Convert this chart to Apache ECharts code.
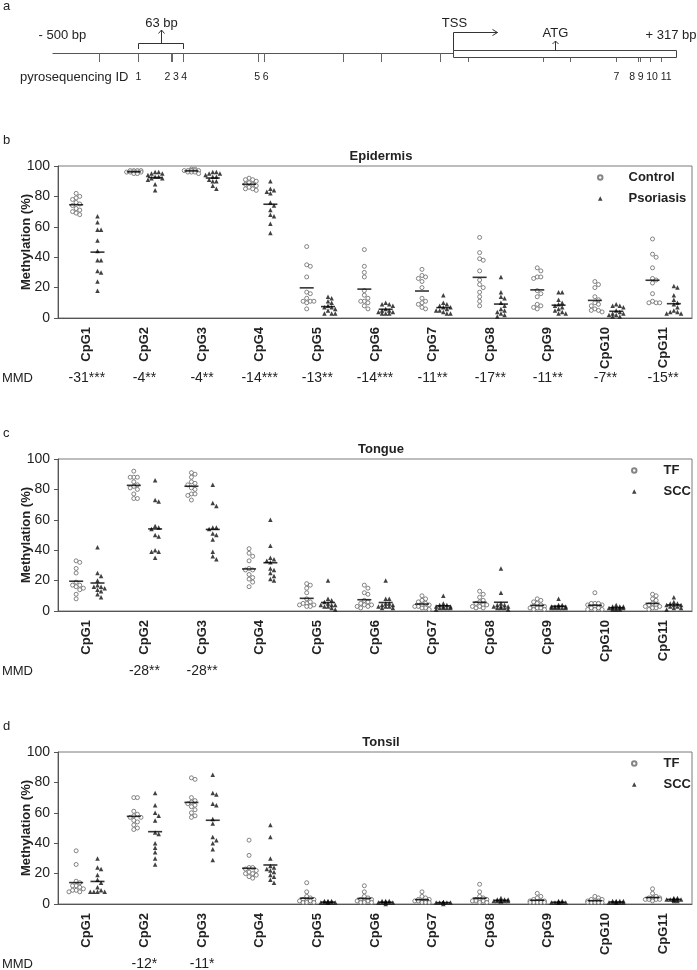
<!DOCTYPE html>
<html><head><meta charset="utf-8">
<script src="https://cdn.jsdelivr.net/npm/echarts@6/dist/echarts.min.js"></script>
<style>html,body{margin:0;padding:0;background:#fff}#c{width:697px;height:970px}</style>
</head><body><div id="c"></div>
<script>
// ---------- data ----------
const cpgLabels = ['CpG1','CpG2','CpG3','CpG4','CpG5','CpG6','CpG7','CpG8','CpG9','CpG10','CpG11'];
const yTicks = [0, 20, 40, 60, 80, 100];

const epiControl = [
 [82, 80, 79, 78, 76, 75, 74, 72, 71, 70, 69, 68],
 [97, 96, 96, 96, 97, 95, 96, 96, 97, 96, 95, 97],
 [98, 97, 97, 97, 96, 97, 96, 95, 97, 98, 97, 96],
 [92, 91, 91, 90, 89, 88, 88, 87, 86, 85, 85, 84],
 [47, 35, 34, 27, 17, 16, 13, 11, 11, 11, 10, 6],
 [45, 34, 30, 27, 18, 15, 13, 11, 10, 8, 6, 11],
 [32, 28, 27, 26, 24, 20, 13, 11, 10, 9, 7, 6],
 [53, 43, 39, 38, 31, 25, 22, 20, 17, 14, 11, 8],
 [33, 31, 27, 27, 26, 18, 16, 14, 9, 8, 7, 6],
 [24, 22, 20, 14, 12, 10, 9, 8, 6, 5, 5, 4],
 [52, 42, 40, 33, 26, 25, 23, 16, 11, 10, 10, 10]
];
const epiPsoriasis = [
 [67, 63, 58, 58, 51, 44, 38, 38, 31, 30, 24, 18],
 [96, 95, 95, 94, 93, 93, 92, 92, 91, 88, 84, 96],
 [96, 96, 95, 95, 94, 93, 93, 91, 90, 90, 85, 87],
 [90, 85, 84, 83, 82, 76, 74, 71, 68, 67, 62, 56],
 [14, 13, 11, 10, 8, 7, 7, 6, 5, 3, 3, 3],
 [10, 9, 9, 8, 6, 5, 5, 4, 4, 3, 3, 3],
 [15, 10, 9, 8, 7, 7, 6, 5, 5, 4, 3, 3],
 [27, 17, 14, 13, 10, 8, 6, 5, 4, 3, 2, 1],
 [17, 17, 12, 10, 9, 8, 7, 6, 5, 4, 3, 3],
 [9, 8, 8, 7, 5, 4, 3, 3, 2, 2, 1, 1],
 [21, 20, 15, 12, 10, 9, 7, 5, 4, 4, 3, 3]
];
const tongueTF = [
 [33, 32, 28, 25, 19, 17, 17, 16, 15, 14, 11, 8],
 [92, 88, 88, 88, 85, 83, 82, 81, 80, 77, 74, 74],
 [91, 90, 88, 85, 84, 83, 81, 80, 77, 77, 76, 73],
 [41, 38, 36, 33, 28, 27, 27, 24, 22, 21, 19, 16],
 [18, 17, 15, 12, 8, 6, 5, 5, 4, 4, 3, 3],
 [17, 15, 12, 11, 7, 6, 5, 4, 4, 3, 3, 2],
 [10, 8, 7, 6, 5, 4, 4, 3, 3, 2, 2, 1],
 [13, 11, 9, 7, 6, 5, 4, 4, 3, 3, 2, 2],
 [8, 7, 6, 5, 4, 3, 3, 2, 2, 2, 1, 1],
 [12, 5, 5, 5, 4, 4, 3, 2, 2, 1, 1, 1],
 [11, 10, 8, 7, 5, 4, 4, 3, 3, 2, 2, 1]
];
const tongueSCC = [
 [42, 25, 23, 20, 17, 16, 16, 15, 14, 13, 11, 9],
 [86, 73, 72, 56, 55, 54, 50, 49, 40, 39, 39, 35],
 [83, 71, 69, 55, 55, 54, 51, 50, 47, 39, 36, 34],
 [60, 43, 35, 34, 33, 32, 28, 27, 25, 23, 21, 20],
 [20, 8, 7, 6, 5, 4, 4, 4, 3, 3, 2, 1],
 [20, 8, 8, 5, 5, 4, 4, 3, 3, 3, 2, 2],
 [10, 5, 4, 4, 3, 3, 3, 2, 2, 2, 2, 1],
 [28, 12, 5, 4, 4, 3, 3, 3, 2, 2, 2, 1],
 [8, 4, 4, 3, 3, 3, 3, 2, 2, 2, 2, 2],
 [4, 3, 3, 3, 2, 2, 2, 2, 2, 1, 1, 1],
 [9, 6, 5, 5, 4, 4, 4, 3, 3, 2, 2, 1]
];
const tonsilTF = [
 [35, 26, 15, 14, 12, 12, 11, 10, 9, 9, 8, 8],
 [70, 70, 61, 59, 58, 57, 57, 55, 54, 52, 50, 49],
 [83, 82, 70, 68, 67, 66, 65, 64, 62, 60, 58, 57],
 [42, 32, 24, 24, 23, 22, 21, 20, 20, 19, 18, 17],
 [14, 8, 5, 4, 3, 3, 2, 2, 2, 1, 1, 1],
 [12, 8, 5, 4, 3, 3, 2, 2, 2, 1, 1, 1],
 [8, 5, 4, 3, 3, 2, 2, 2, 2, 1, 1, 1],
 [13, 8, 5, 4, 3, 3, 2, 2, 2, 2, 1, 1],
 [7, 5, 4, 3, 2, 2, 2, 1, 1, 1, 1, 1],
 [5, 4, 3, 3, 2, 2, 2, 1, 1, 1, 1, 1],
 [10, 7, 5, 4, 4, 4, 3, 3, 3, 3, 3, 2]
];
const tonsilSCC = [
 [30, 24, 23, 19, 16, 14, 11, 9, 8, 8, 8, 8],
 [73, 65, 60, 58, 55, 46, 40, 37, 34, 30, 26, 47],
 [85, 73, 72, 66, 65, 53, 56, 44, 42, 36, 29, 40],
 [52, 44, 30, 25, 24, 23, 22, 21, 19, 18, 16, 14],
 [2, 2, 2, 1, 1, 1, 1, 1, 1, 1, 1, 1],
 [2, 2, 2, 1, 1, 1, 1, 1, 1, 1, 1, 0],
 [1, 1, 1, 1, 1, 1, 1, 1, 1, 1, 1, 0],
 [4, 3, 3, 3, 2, 2, 2, 2, 2, 2, 2, 2],
 [2, 2, 1, 1, 1, 1, 1, 1, 1, 1, 1, 1],
 [2, 2, 2, 2, 1, 1, 1, 1, 1, 1, 1, 1],
 [4, 4, 3, 3, 3, 3, 3, 3, 3, 3, 2, 2]
];
const mmdEpi = ['-31***','-4**','-4**','-14***','-13**','-14***','-11**','-17**','-11**','-7**','-15**'];
const mmdTongue = ['','-28**','-28**','','','','','','','',''];
const mmdTonsil = ['','-12*','-11*','','','','','','','',''];

// panel a (schematic, bp)
const startPos = -500, endPos = 317, tssPos = 25, atgPos = 159;
const siteIds = [1,2,3,4,5,6,7,8,9,10,11];
const sitePos = [-387, -344, -343, -328, -230, -222, 238, 267, 270, 283, 297];
const otherCpgPos = [-438, -119, -69, 8, 45, 143, 178];
const regionLabels = ['- 500 bp', '+ 317 bp'];
const fragmentLabel = '63 bp';

// ---------- helpers ----------
const FONT = '"Liberation Sans", Arial, Helvetica, sans-serif';
const PX_X = 634 / 11, PX_Y = 152 / 100, DOT = 3.6;

function swarm(vals, center) {
  const order = vals.map((v, i) => i).sort((a, b) => vals[b] - vals[a]);
  const placed = [], out = [];
  for (const i of order) {
    const y = vals[i] * PX_Y;
    let best = 0, bestD = -1;
    for (let k = 0; k < 5; k++) {
      const dx = k === 0 ? 0 : (k % 2 ? 1 : -1) * Math.ceil(k / 2) * DOT;
      let minD = Infinity;
      for (const p of placed) minD = Math.min(minD, Math.hypot(dx - p.dx, y - p.y));
      if (minD >= DOT) { best = dx; bestD = minD; break; }
      if (minD > bestD) { bestD = minD; best = dx; }
    }
    placed.push({ dx: best, y });
    out.push([center + best / PX_X, vals[i]]);
  }
  return out;
}
const mean = a => a.reduce((s, v) => s + v, 0) / a.length;

// spread ID labels so they do not overlap, keeping each cluster centred on its sites
function spreadLabels(xs, widths, gap) {
  const out = [], clusters = [];
  let prevRight = -Infinity;
  xs.forEach((x, k) => {
    let cx = x;
    if (cx - widths[k] / 2 < prevRight + gap) {
      cx = prevRight + gap + widths[k] / 2;
      clusters[clusters.length - 1].push(k);
    } else clusters.push([k]);
    prevRight = cx + widths[k] / 2;
    out.push(cx);
  });
  clusters.forEach(c => {
    if (c.length < 2) return;
    const shift = mean(c.map(k => xs[k])) - mean(c.map(k => out[k]));
    c.forEach(k => { out[k] += shift; });
  });
  return out;
}

function renderGene(params, api) {
  const X = v => Math.round(api.coord([v, 0])[0]) + 0.5;
  const yLine = 53.5, boxTop = 50.5, boxBot = 57.5, tickBot = 62;
  const ch = [];
  const line = (x1, y1, x2, y2, c) => ch.push({ type: 'line', shape: { x1, y1, x2, y2 }, style: { stroke: c || '#555', lineWidth: 1 } });
  const poly = (pts) => ch.push({ type: 'polyline', shape: { points: pts }, style: { stroke: '#333', fill: null, lineWidth: 1 } });
  const text = (t, x, y, align, size) => ch.push({ type: 'text', style: { text: t, x, y, align: align || 'center', verticalAlign: 'middle', fontSize: size || 13, fontFamily: FONT, fill: '#222' } });
  line(X(startPos), yLine, X(tssPos), yLine);
  ch.push({ type: 'rect', shape: { x: X(tssPos), y: boxTop, width: X(endPos) - X(tssPos), height: boxBot - boxTop }, style: { fill: '#fff', stroke: '#444', lineWidth: 1 } });
  sitePos.concat(otherCpgPos).forEach(p => {
    const x = X(p);
    line(x, p < tssPos ? yLine : boxBot, x, tickBot, '#666');
  });
  // 63 bp bracket
  const x1 = X(sitePos[0]), x2 = X(sitePos[3]), xc = Math.round((x1 + x2) / 2) + 0.5;
  poly([[x1, 49], [x1, 43.5], [x2, 43.5], [x2, 49]]);
  line(xc, 43.5, xc, 30, '#333');
  poly([[xc - 3, 33.5], [xc, 30], [xc + 3, 33.5]]);
  text(fragmentLabel, xc, 23);
  // TSS arrow
  const xt = X(tssPos), xe = xt + 44;
  poly([[xt, boxTop], [xt, 32.5], [xe, 32.5]]);
  poly([[xe - 5, 29.5], [xe, 32.5], [xe - 5, 35.5]]);
  text('TSS', xt + 1, 23);
  // ATG arrow
  const xa = X(atgPos);
  line(xa, boxTop, xa, 41, '#333');
  poly([[xa - 3, 44], [xa, 41], [xa + 3, 44]]);
  text('ATG', xa, 33);
  text(regionLabels[0], X(startPos) - 14, 35, 'left');
  text(regionLabels[1], X(endPos) - 31, 35, 'left');
  text('pyrosequencing ID', 20, 77, 'left');
  const labels = siteIds.map(String);
  const lx = spreadLabels(sitePos.map(X), labels.map(s => s.length * 5.84), 2.6);
  labels.forEach((s, k) => text(s, lx[k], 77, 'center', 10.5));
  return { type: 'group', children: ch };
}

// ---------- layout ----------
const panels = [
  { title: 'Epidermis', letter: 'b', names: ['Control', 'Psoriasis'], ctrl: epiControl, dis: epiPsoriasis, mmd: mmdEpi, top: 166, legendLeft: 597, textPad: 21 },
  { title: 'Tongue', letter: 'c', names: ['TF', 'SCC'], ctrl: tongueTF, dis: tongueSCC, mmd: mmdTongue, top: 459, legendLeft: 631, textPad: 22 },
  { title: 'Tonsil', letter: 'd', names: ['TF', 'SCC'], ctrl: tonsilTF, dis: tonsilSCC, mmd: mmdTonsil, top: 752, legendLeft: 631, textPad: 22 }
];
const OFF = 0.185;

const grid = [{ left: 52, right: 21, top: 0, height: 80, outerBoundsMode: 'none' }];
const xAxis = [{ gridIndex: 0, type: 'value', min: startPos, max: endPos, show: false }];
const yAxis = [{ gridIndex: 0, type: 'value', min: 0, max: 1, show: false }];
const title = [{ text: 'a', left: 3, top: 0, padding: 0, textStyle: { fontSize: 13, fontWeight: 'normal', color: '#222', fontFamily: FONT } }];
const legend = [];
const series = [{ type: 'custom', xAxisIndex: 0, yAxisIndex: 0, data: [[0, 0]], renderItem: renderGene, silent: true }];

panels.forEach((p, k) => {
  const gi = k + 1;
  grid.push({ left: 58, right: 5, top: p.top, height: 152, show: true, borderColor: '#7a7a7a', borderWidth: 1, backgroundColor: 'transparent', outerBoundsMode: 'none' });
  const cat = xAxis.length;
  xAxis.push({ gridIndex: gi, type: 'category', data: cpgLabels, boundaryGap: true,
    axisLine: { onZero: false, lineStyle: { color: '#555', width: 1 } },
    axisTick: { alignWithLabel: true, length: 5, lineStyle: { color: '#555' } },
    axisLabel: { rotate: 90, interval: 0, margin: 9, fontSize: 13, fontWeight: 'bold', color: '#222', fontFamily: FONT },
    splitLine: { show: false } });
  xAxis.push({ gridIndex: gi, type: 'value', min: -0.5, max: 10.5, show: false, axisLine: { onZero: false } });
  xAxis.push({ gridIndex: gi, type: 'category', data: p.mmd, position: 'bottom', offset: 53,
    axisLine: { show: false, onZero: false }, axisTick: { show: false },
    axisLabel: { interval: 0, margin: 0, fontSize: 14, color: '#222', fontFamily: FONT },
    name: 'MMD', nameLocation: 'start', nameGap: 25,
    nameTextStyle: { fontSize: 13, color: '#222', fontFamily: FONT, verticalAlign: 'top', align: 'right', padding: [1, 0, 0, 0] } });
  yAxis.push({ gridIndex: gi, type: 'value', min: yTicks[0], max: yTicks[yTicks.length - 1], interval: 20,
    axisLine: { show: true, onZero: false, lineStyle: { color: '#555' } },
    axisTick: { show: true, length: 4, lineStyle: { color: '#555' } },
    axisLabel: { fontSize: 14, color: '#222', margin: 8, fontFamily: FONT },
    splitLine: { show: false },
    name: 'Methylation (%)', nameLocation: 'middle', nameGap: 25, nameMoveOverlap: false,
    nameTextStyle: { fontSize: 13, fontWeight: 'bold', color: '#222', fontFamily: FONT } });
  title.push({ text: p.letter, left: 3, top: p.top - 32, padding: 0, textStyle: { fontSize: 13, fontWeight: 'normal', color: '#222', fontFamily: FONT } });
  title.push({ text: p.title, left: 381, textAlign: 'center', top: p.top - 16, padding: 0, textStyle: { fontSize: 13, fontWeight: 'bold', color: '#222', fontFamily: FONT } });
  legend.push({ data: p.names, orient: 'vertical', left: p.legendLeft, top: p.top + 5, padding: 0,
    itemWidth: 4.5, itemHeight: 4.5, itemGap: 8, selectedMode: false,
    textStyle: { fontSize: 13, fontWeight: 'bold', color: '#222', fontFamily: FONT, padding: [0, 0, 0, p.textPad] } });
  const ctrlPts = [], disPts = [], means = [];
  cpgLabels.forEach((c, i) => {
    ctrlPts.push(...swarm(p.ctrl[i], i - OFF));
    disPts.push(...swarm(p.dis[i], i + OFF));
    means.push([i - OFF, mean(p.ctrl[i])], [i + OFF, mean(p.dis[i])]);
  });
  series.push({ type: 'scatter', name: p.names[0], xAxisIndex: cat + 1, yAxisIndex: gi, symbol: 'circle', symbolSize: 4,
    itemStyle: { color: '#fff', borderColor: '#666', borderWidth: 1 }, data: ctrlPts, silent: true, z: 3 });
  series.push({ type: 'scatter', name: p.names[1], xAxisIndex: cat + 1, yAxisIndex: gi, symbol: 'triangle', symbolSize: 4.5,
    itemStyle: { color: '#111' }, data: disPts, silent: true, z: 3 });
  series.push({ type: 'scatter', name: 'mean', xAxisIndex: cat + 1, yAxisIndex: gi, symbol: 'rect', symbolSize: [14, 1.6],
    itemStyle: { color: '#000' }, data: means, silent: true, z: 4 });
});

const chart = echarts.init(document.getElementById('c'), null, { renderer: 'canvas' });
chart.setOption({ animation: false, backgroundColor: '#fff', textStyle: { fontFamily: FONT },
  title, legend, grid, xAxis, yAxis, series });
</script></body></html>
